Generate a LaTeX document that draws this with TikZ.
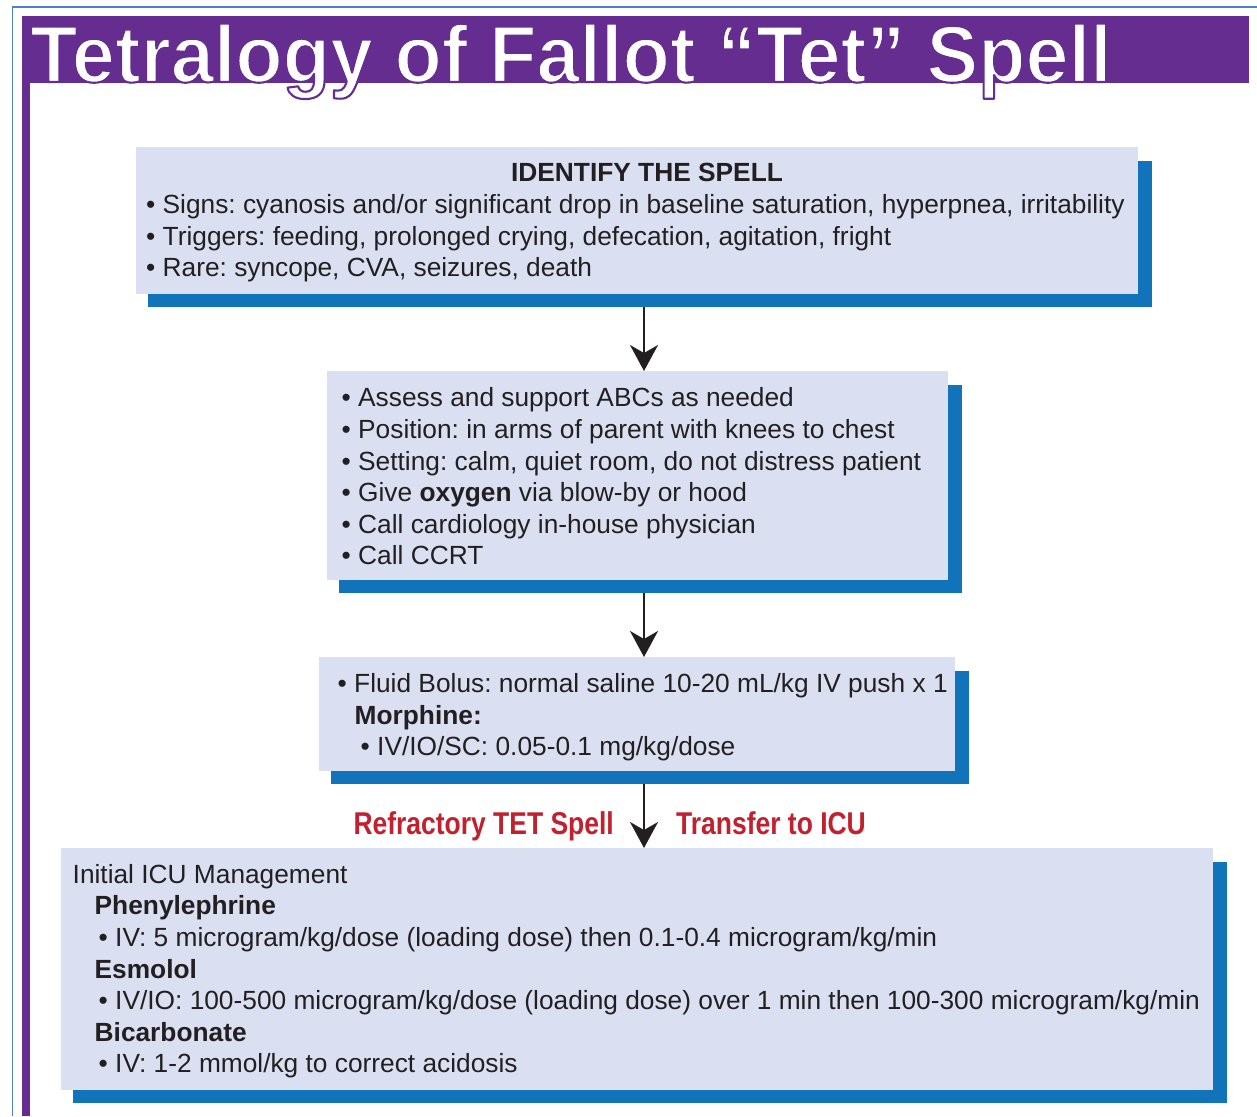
\documentclass[tikz,border=0pt]{standalone}
\usepackage{fontspec}
\setmainfont{Liberation Sans}
\newfontfamily\titlefont{Liberation Sans}[FakeStretch=0.962]
\newfontfamily\labelfont{Liberation Sans}[FakeStretch=0.84]
\usetikzlibrary{arrows.meta}

\definecolor{banner}{HTML}{662D91}
\definecolor{frameblue}{HTML}{4F81C7}
\definecolor{panelfill}{HTML}{DAE0F2}
\definecolor{shadowblue}{HTML}{1174BB}
\definecolor{ink}{HTML}{231F20}
\definecolor{alertred}{HTML}{C1202F}

% white letters with a purple edge (fill + stroke rendering mode)
\newcommand{\outlined}[1]{%
  \special{pdf:literal direct 0.4 0.176 0.569 RG 2.1 w 1 j 2 Tr}#1%
  \special{pdf:literal direct 0 Tr}}

\begin{document}
\frenchspacing
\begin{tikzpicture}[x=1pt,y=-1pt,
  panel/.style={fill=panelfill, draw=none, inner sep=0pt, anchor=north west},
  paneshadow/.style={fill=shadowblue, draw=none, inner sep=0pt, anchor=north west},
  body/.style={inner sep=0pt, anchor=north west, align=left, text=ink,
    font=\fontsize{26.3}{31.6}\selectfont\frenchspacing},
  heading/.style={inner sep=0pt, text=ink, font=\fontsize{26.3}{31.6}\selectfont\bfseries},
  redlabel/.style={inner sep=0pt, text=alertred, font=\labelfont\bfseries\fontsize{31.5}{31.5}\selectfont},
  flow/.style={draw=ink, line width=2.2pt,
    -{Stealth[length=26pt, width=28pt, inset=8pt]}},
]
\useasboundingbox (0,0) rectangle (1257,1116);

% page frame and title banner
\draw[frameblue, line width=1.5pt] (12.5,1116) -- (12.5,7) -- (1257,7);
\fill[banner] (22,16) rectangle (1249,83);
\fill[banner] (22,83) rectangle (29.5,1116);

\node[inner sep=0pt, anchor=base west, text=white,
      font=\titlefont\bfseries\fontsize{80.5}{80}\selectfont]
  (title) at (30,82) {\outlined{Tetralogy of Fallot “Tet” Spell}};

% drop shadows behind the panels
\node[paneshadow, minimum width=1004pt, minimum height=146pt] (b1s) at (148,161) {};
\node[paneshadow, minimum width=623pt, minimum height=208pt] (b2s) at (339,385) {};
\node[paneshadow, minimum width=638pt, minimum height=113pt] (b3s) at (331,671) {};
\node[paneshadow, minimum width=1154pt, minimum height=241pt] (b4s) at (73,862) {};

% panels
\node[panel, minimum width=1002pt, minimum height=147pt] (b1) at (136,147) {};
\node[panel, minimum width=621pt, minimum height=209pt] (b2) at (327,371) {};
\node[panel, minimum width=636pt, minimum height=114pt] (b3) at (319,657) {};
\node[panel, minimum width=1152pt, minimum height=242pt] (b4) at (61,848) {};

% panel texts
\node[heading, anchor=base] (h1) at (647,181.5) {IDENTIFY THE SPELL};
\node[body] (t1) at (146,191.3) {\rule{0pt}{22pt}• Signs: cyanosis and/or significant drop in baseline saturation, hyperpnea, irritability\\
• Triggers: feeding, prolonged crying, defecation, agitation, fright\\
• Rare: syncope, CVA, seizures, death};

\node[body] (t2) at (341.5,384.7) {\rule{0pt}{22pt}• Assess and support ABCs as needed\\
• Position: in arms of parent with knees to chest\\
• Setting: calm, quiet room, do not distress patient\\
• Give \textbf{oxygen} via blow-by or hood\\
• Call cardiology in-house physician\\
• Call CCRT};

\node[body] (t3) at (337.5,670.5) {\rule{0pt}{22pt}• Fluid Bolus: normal saline 10-20 mL/kg IV push x 1\\
\hspace*{17pt}\textbf{Morphine:}\\
\hspace*{23pt}• IV/IO/SC: 0.05-0.1 mg/kg/dose};

\node[body] (t4) at (72.5,861) {\rule{0pt}{22pt}Initial ICU Management\\
\hspace*{22pt}\textbf{Phenylephrine}\\
\hspace*{26pt}• IV: 5 microgram/kg/dose (loading dose) then 0.1-0.4 microgram/kg/min\\
\hspace*{22pt}\textbf{Esmolol}\\
\hspace*{26pt}• IV/IO: 100-500 microgram/kg/dose (loading dose) over 1 min then 100-300 microgram/kg/min\\
\hspace*{22pt}\textbf{Bicarbonate}\\
\hspace*{26pt}• IV: 1-2 mmol/kg to correct acidosis};

% connectors
\coordinate (ax) at (644,0);
\draw[flow] (ax |- b1s.south) -- (ax |- b2.north);
\draw[flow] (ax |- b2s.south) -- (ax |- b3.north);
\draw[flow] (ax |- b3s.south) -- (ax |- b4.north);

\node[redlabel, anchor=base east] (refr) at (614,834) {Refractory TET Spell};
\node[redlabel, anchor=base west] (icu) at (676,834) {Transfer to ICU};
\end{tikzpicture}
\end{document}
